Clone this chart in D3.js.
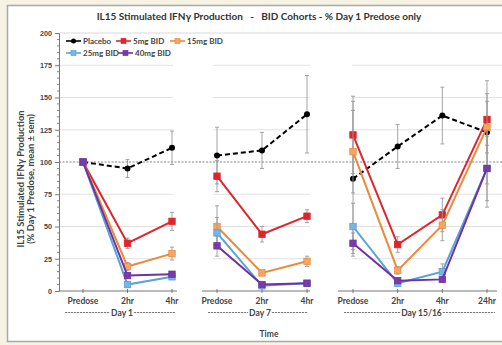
<!DOCTYPE html>
<html><head><meta charset="utf-8">
<script src="https://cdn.jsdelivr.net/npm/d3@7"></script>
<style>body{margin:0;background:#f6f3e4;}svg{display:block;font-family:Lato,"Open Sans",sans-serif;}</style>
</head><body>
<svg id="c" width="502" height="345"></svg>
<script>
const panelCats = [["Predose","2hr","4hr"],["Predose","2hr","4hr"],["Predose","2hr","4hr","24hr"]];
const dayLabels = ["Day 1","Day 7","Day 15/16"];
const yTicks = [0,25,50,75,100,125,150,175,200];
const seriesNames = ["Placebo","5mg BID","15mg BID","25mg BID","40mg BID"];
const placebo = [[100,95,111],[105,109,137],[87,112,136,123]];
const placeboSem = [[0,7,13],[22,14,30],[60,17,22,40]];
const mg5 = [[100,37,54],[89,44,58],[121,36,59,133]];
const mg5Sem = [[0,4,7],[12,6,5],[30,6,13,20]];
const mg15 = [[100,19,29],[50,14,23],[108,16,51,127]];
const mg15Sem = [[0,3,5],[16,2,4],[32,3,12,20]];
const mg25 = [[100,5,11],[45,4,6],[50,6,15,95]];
const mg25Sem = [[0,2,2],[12,1,1],[18,2,6,25]];
const mg40 = [[100,12,13],[35,5,6],[37,8,9,95]];
const mg40Sem = [[0,2,2],[8,1,1],[8,1,2,30]];

const seriesVals = [placebo,mg5,mg15,mg25,mg40];
const seriesSems = [placeboSem,mg5Sem,mg15Sem,mg25Sem,mg40Sem];
const colors = ["#000000","#e0242b","#ec8a3c","#5aa2d8","#7032a0"];
const fills = ["#000000","#e0242b","#f2a768","#78b6e4","#7a3aa8"];

const svg = d3.select("#c");
svg.append("rect").attr("x",7.5).attr("y",5.5).attr("width",500).attr("height",336)
  .attr("fill","#ffffff").attr("stroke","#a9a9a9").attr("stroke-width",1.5);

const y = d3.scaleLinear().domain([0,200]).range([291,33]);
const panelRanges = [[83,172],[217,307],[353,487]];
const axisSpans = [[59,177],[202,310],[338,497]];
const gridSpans = [[59,173],[213,310],[352,502]];
const xs = panelCats.map((c,i)=>d3.scalePoint().domain(c).range(panelRanges[i]));

yTicks.filter(t=>t>0 && t!==100 && t!==200).forEach(t=>{
  gridSpans.forEach(s=>{
    svg.append("line").attr("x1",s[0]).attr("x2",s[1]).attr("y1",y(t)).attr("y2",y(t))
      .attr("stroke","#e2e2e2").attr("stroke-width",1);
  });
});
svg.append("line").attr("x1",59).attr("x2",502).attr("y1",y(200)).attr("y2",y(200))
  .attr("stroke","#d8d8d8").attr("stroke-width",1);
svg.append("line").attr("x1",59).attr("x2",502).attr("y1",y(100)).attr("y2",y(100))
  .attr("stroke","#b0b0b0").attr("stroke-width",1.5).attr("stroke-dasharray","2,1.5");

const yAxis = d3.axisLeft(y).tickValues(yTicks).tickSize(4).tickPadding(3);
const gy = svg.append("g").attr("transform","translate(59,0)").call(yAxis);
gy.select(".domain").attr("stroke","#777");
gy.selectAll(".tick line").attr("stroke","#777");
gy.selectAll("text").attr("font-size","7.2px").attr("fill","#444").attr("font-weight","bold");
const minor = d3.range(0,201,5).filter(v=>v%25!==0);
svg.append("g").selectAll("line").data(minor).join("line")
  .attr("x1",57).attr("x2",59).attr("y1",d=>y(d)).attr("y2",d=>y(d)).attr("stroke","#888");

panelCats.forEach((cats,i)=>{
  const g = svg.append("g");
  g.append("line").attr("x1",axisSpans[i][0]).attr("x2",axisSpans[i][1]).attr("y1",291).attr("y2",291)
    .attr("stroke","#777").attr("stroke-width",1);
  cats.forEach(c=>{
    g.append("line").attr("x1",xs[i](c)).attr("x2",xs[i](c)).attr("y1",289).attr("y2",293).attr("stroke","#777");
    g.append("text").attr("x",xs[i](c)).attr("y",304).attr("text-anchor","middle")
      .attr("font-size","8.5px").attr("font-weight","bold").attr("fill","#444").text(c);
  });
  const x0 = axisSpans[i][0]+6, x1 = axisSpans[i][1]-2;
  const mid = (x0 + x1)/2 + 2;
  const t = g.append("text").attr("x",mid).attr("y",315.5).attr("text-anchor","middle")
    .attr("font-size","8.5px").attr("font-weight","bold").attr("fill","#444").text(dayLabels[i]);
  const w = t.node().getComputedTextLength();
  [[x0,mid-w/2-1],[mid+w/2+1,x1]].forEach(s=>{
    g.append("line").attr("x1",s[0]).attr("x2",s[1]).attr("y1",312.5).attr("y2",312.5)
      .attr("stroke","#555").attr("stroke-width",0.8).attr("stroke-dasharray","2.2,0.8");
  });
});

seriesVals.forEach((vals,si)=>{
  vals.forEach((pv,pi)=>{
    const cats = panelCats[pi];
    const pts = pv.map((v,k)=>({x:xs[pi](cats[k]),v:v,e:seriesSems[si][pi][k]}));
    const g = svg.append("g");
    pts.filter(p=>p.e>0).forEach(p=>{
      g.append("line").attr("x1",p.x).attr("x2",p.x).attr("y1",y(p.v+p.e)).attr("y2",y(Math.max(0,p.v-p.e)))
        .attr("stroke","#9a9a9a").attr("stroke-width",0.9);
      [p.v+p.e, Math.max(0,p.v-p.e)].forEach(ev=>{
        g.append("line").attr("x1",p.x-2).attr("x2",p.x+2).attr("y1",y(ev)).attr("y2",y(ev))
          .attr("stroke","#9a9a9a").attr("stroke-width",0.9);
      });
    });
    const line = d3.line().x(p=>p.x).y(p=>y(p.v));
    const path = g.append("path").datum(pts).attr("d",line).attr("fill","none")
      .attr("stroke",colors[si]).attr("stroke-width",2);
    if(si===0) path.attr("stroke-dasharray","5,3");
    if(si===0){
      g.selectAll("circle").data(pts).join("circle").attr("cx",p=>p.x).attr("cy",p=>y(p.v)).attr("r",3).attr("fill","#000");
    } else {
      g.selectAll("rect").data(pts).join("rect").attr("x",p=>p.x-3.2).attr("y",p=>y(p.v)-3.2)
        .attr("width",6.4).attr("height",6.4).attr("fill",fills[si]).attr("stroke",colors[si]).attr("stroke-width",0.8);
    }
  });
});

const legendPos = [[66,41],[116,41],[170,41],[66,53],[118,53]];
seriesNames.forEach((n,si)=>{
  const [lx,ly] = legendPos[si];
  const g = svg.append("g");
  g.append("line").attr("x1",lx).attr("x2",lx+15).attr("y1",ly).attr("y2",ly).attr("stroke",colors[si]).attr("stroke-width",1.6);
  if(si===0) g.append("circle").attr("cx",lx+7.5).attr("cy",ly).attr("r",2.5).attr("fill","#000");
  else g.append("rect").attr("x",lx+5).attr("y",ly-2.5).attr("width",5).attr("height",5).attr("fill",fills[si]).attr("stroke",colors[si]).attr("stroke-width",0.7);
  g.append("text").attr("x",lx+17).attr("y",ly+2.8).attr("font-size","8px").attr("font-weight","bold").attr("fill","#444").text(n);
});

svg.append("text").attr("x",259).attr("y",20).attr("text-anchor","middle").attr("font-size","10px")
  .attr("font-weight","bold").attr("fill","#333").style("white-space","pre")
  .text("IL15 Stimulated IFNγ Production   -   BID Cohorts - % Day 1 Predose only");
svg.append("text").attr("transform","translate(24,179) rotate(-90)").attr("text-anchor","middle")
  .attr("font-size","9.4px").attr("font-weight","bold").attr("fill","#444").text("IL15 Stimulated IFNγ Production");
svg.append("text").attr("transform","translate(34,179) rotate(-90)").attr("text-anchor","middle")
  .attr("font-size","9.4px").attr("font-weight","bold").attr("fill","#444").text("(% Day 1 Predose, mean ± sem)");
svg.append("text").attr("x",269).attr("y",337).attr("text-anchor","middle").attr("font-size","8.5px")
  .attr("font-weight","bold").attr("fill","#444").text("Time");
</script>
</body></html>
